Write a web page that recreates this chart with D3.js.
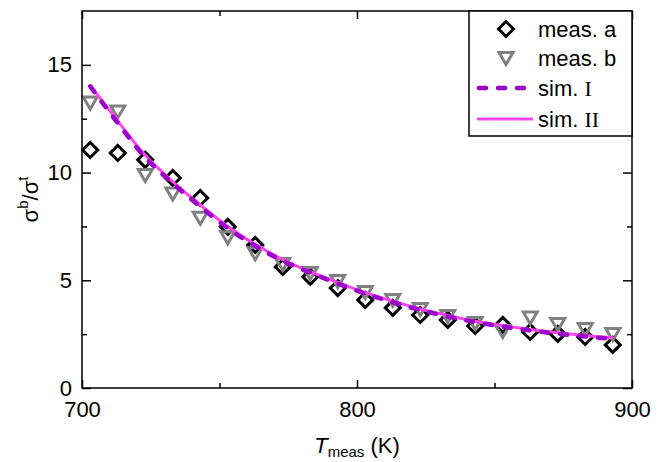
<!DOCTYPE html>
<html>
<head>
<meta charset="utf-8">
<script src="https://cdn.jsdelivr.net/npm/d3@7"></script>
<style>
  body { margin: 0; background: #fff; }
  svg text { font-family: "Liberation Sans", Arial, sans-serif; }
</style>
</head>
<body>
<svg id="chart" width="665" height="462"></svg>
<script>
// measurement temperatures (K)
const temps = [703, 713, 723, 733, 743, 753, 763, 773, 783, 793,
               803, 813, 823, 833, 843, 853, 863, 873, 883, 893];
const measA = [11.05, 10.91, 10.59, 9.75, 8.82, 7.48, 6.64, 5.62, 5.16, 4.64,
               4.09, 3.72, 3.39, 3.16, 2.88, 2.93, 2.60, 2.51, 2.37, 2.00];
const measB = [13.25, 12.84, 9.89, 9.03, 7.9, 7.0, 6.25, 5.76, 5.34, 4.97,
               4.46, 4.09, 3.67, 3.34, 3.02, 2.65, 3.27, 2.97, 2.74, 2.51];
const simI  = [14.0, 12.3, 10.7, 9.5, 8.42, 7.42, 6.6, 5.9, 5.35, 4.85,
               4.38, 3.98, 3.62, 3.32, 3.06, 2.85, 2.67, 2.52, 2.39, 2.28];
const simII = [14.05, 12.4, 10.8, 9.58, 8.5, 7.5, 6.67, 5.96, 5.4, 4.9,
               4.43, 4.03, 3.67, 3.37, 3.1, 2.9, 2.72, 2.57, 2.44, 2.33];
const xTicks = [700, 800, 900];
const xMinor = [750, 850];
const yTicks = [0, 5, 10, 15];
const yMinor = [2.5, 7.5, 12.5];
const legendLabels = ['meas. a', 'meas. b', 'sim. ', 'sim. '];
const legendNumerals = ['', '', 'I', 'II'];

const svg = d3.select('#chart');
const pLeft = 82, pRight = 632, pTop = 11, pBottom = 388;

const x = d3.scaleLinear().domain([700, 900]).range([pLeft, pRight]);
const y = d3.scaleLinear().domain([0, 17.5]).range([pBottom, pTop]);

const purple = '#9b00cc';
const pink = '#ff44ee';

// marker shapes
const diamond = 'M0,-7.5L7.5,0L0,7.5L-7.5,0Z';
const tri = 'M-7,-5.5L7,-5.5L0,6.5Z';

// meas. a (diamonds)
svg.append('g').selectAll('path')
  .data(temps)
  .enter()
  .append('path')
  .attr('d', diamond)
  .attr('transform', (d, i) => `translate(${x(d)},${y(measA[i])})`)
  .attr('fill', 'none')
  .attr('stroke', '#000')
  .attr('stroke-width', 3);

// meas. b (triangles)
svg.append('g').selectAll('path')
  .data(temps)
  .enter()
  .append('path')
  .attr('d', tri)
  .attr('transform', (d, i) => `translate(${x(d)},${y(measB[i])})`)
  .attr('fill', 'none')
  .attr('stroke', '#808080')
  .attr('stroke-width', 3);

// simulation curves
const line = d3.line()
  .x(d => x(d[0]))
  .y(d => y(d[1]))
  .curve(d3.curveCatmullRom);

svg.append('path')
  .attr('d', line(temps.map((t, i) => [t, simII[i]])))
  .attr('fill', 'none')
  .attr('stroke', pink)
  .attr('stroke-width', 3);

svg.append('path')
  .attr('d', line(temps.map((t, i) => [t, simI[i]])))
  .attr('fill', 'none')
  .attr('stroke', purple)
  .attr('stroke-width', 4.5)
  .attr('stroke-linecap', 'round')
  .attr('stroke-dasharray', '7,12');

// frame
svg.append('rect')
  .attr('x', pLeft).attr('y', pTop)
  .attr('width', pRight - pLeft).attr('height', pBottom - pTop)
  .attr('fill', 'none')
  .attr('stroke', '#000')
  .attr('stroke-width', 1.5);

// axes with inward ticks (mirrored on top and right)
const axB = d3.axisBottom(x).tickValues(xTicks).tickSize(-8).tickPadding(13).tickFormat(d3.format('d'));
const axBm = d3.axisBottom(x).tickValues(xMinor).tickSize(-5).tickFormat('');
const axT = d3.axisTop(x).tickValues(xTicks).tickSize(-8).tickFormat('');
const axTm = d3.axisTop(x).tickValues(xMinor).tickSize(-5).tickFormat('');
const axL = d3.axisLeft(y).tickValues(yTicks).tickSize(-9).tickPadding(10).tickFormat(d3.format('d'));
const axLm = d3.axisLeft(y).tickValues(yMinor).tickSize(-5).tickFormat('');
const axR = d3.axisRight(y).tickValues(yTicks).tickSize(-9).tickFormat('');
const axRm = d3.axisRight(y).tickValues(yMinor).tickSize(-5).tickFormat('');

function drawAxis(ax, tr) {
  const g = svg.append('g').attr('transform', tr).call(ax);
  g.select('.domain').remove();
  g.selectAll('line').attr('stroke', '#000').attr('stroke-width', 1.5);
  g.selectAll('text').attr('font-size', 22).attr('fill', '#000')
    .style('font-family', '"Liberation Sans", Arial, sans-serif');
  return g;
}
drawAxis(axB, `translate(0,${pBottom})`);
drawAxis(axBm, `translate(0,${pBottom})`);
drawAxis(axT, `translate(0,${pTop})`);
drawAxis(axTm, `translate(0,${pTop})`);
drawAxis(axL, `translate(${pLeft},0)`);
drawAxis(axLm, `translate(${pLeft},0)`);
drawAxis(axR, `translate(${pRight},0)`);
drawAxis(axRm, `translate(${pRight},0)`);

// axis titles
const xt = svg.append('text')
  .attr('x', (pLeft + pRight) / 2)
  .attr('y', 453)
  .attr('text-anchor', 'middle')
  .attr('font-size', 22);
xt.append('tspan').attr('font-style', 'italic').text('T');
xt.append('tspan').attr('font-size', 15).attr('dy', 4).text('meas');
xt.append('tspan').attr('dy', -4).text(' (K)');

const yt = svg.append('text')
  .attr('transform', `translate(38,${(pTop + pBottom) / 2}) rotate(-90)`)
  .attr('text-anchor', 'middle')
  .attr('font-size', 22);
yt.append('tspan').text('σ');
yt.append('tspan').attr('font-size', 15).attr('dy', -10).text('b');
yt.append('tspan').attr('dy', 10).text('/σ');
yt.append('tspan').attr('font-size', 15).attr('dy', -10).text('t');

// legend
const lg = svg.append('g');
lg.append('rect')
  .attr('x', 469).attr('y', pTop)
  .attr('width', pRight - 469).attr('height', 125)
  .attr('fill', '#fff')
  .attr('stroke', '#000')
  .attr('stroke-width', 1.5);

const rowY = [29, 58, 88, 119];
lg.append('path').attr('d', diamond)
  .attr('transform', `translate(506,${rowY[0]})`)
  .attr('fill', 'none').attr('stroke', '#000').attr('stroke-width', 3);
lg.append('path').attr('d', tri)
  .attr('transform', `translate(506,${rowY[1]})`)
  .attr('fill', 'none').attr('stroke', '#808080').attr('stroke-width', 3);
lg.append('line')
  .attr('x1', 479).attr('x2', 533).attr('y1', rowY[2]).attr('y2', rowY[2])
  .attr('stroke', purple).attr('stroke-width', 4.5)
  .attr('stroke-linecap', 'round').attr('stroke-dasharray', '7,12');
lg.append('line')
  .attr('x1', 477).attr('x2', 533).attr('y1', rowY[3]).attr('y2', rowY[3])
  .attr('stroke', pink).attr('stroke-width', 3);

legendLabels.forEach((lab, i) => {
  const t = lg.append('text')
    .attr('x', 538)
    .attr('y', rowY[i] + 8)
    .attr('font-size', 22)
    .text(lab);
  if (legendNumerals[i]) {
    t.append('tspan')
      .style('font-family', '"Liberation Serif", "Times New Roman", serif')
      .text(legendNumerals[i]);
  }
});
</script>
</body>
</html>
